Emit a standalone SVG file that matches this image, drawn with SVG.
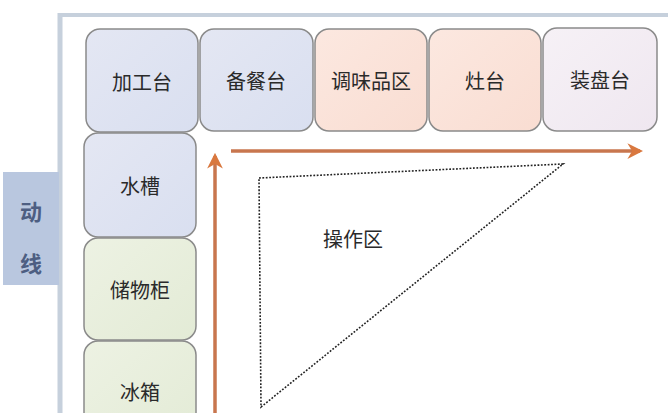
<svg xmlns="http://www.w3.org/2000/svg" width="672" height="413" viewBox="0 0 672 413">
<defs>
<style>
.n{stroke:#8a8a8a;stroke-width:1.5}
.t{font-family:"Noto Sans CJK SC","Noto Sans CJK JP",sans-serif;font-size:20px;fill:#2a2a2a;text-anchor:middle;dominant-baseline:central}
.d{fill:#4d5e82;font-weight:bold;font-size:22px}
.a{stroke:#c8764e;stroke-width:3.5;fill:none}
</style>
<linearGradient id="gb" x1="0" y1="0" x2="1" y2="1"><stop offset="0" stop-color="#e4e7f3"/><stop offset="1" stop-color="#d9dff0"/></linearGradient>
<linearGradient id="go" x1="0" y1="0" x2="1" y2="1"><stop offset="0" stop-color="#fce8e0"/><stop offset="1" stop-color="#f9ddd2"/></linearGradient>
<linearGradient id="gp" x1="0" y1="0" x2="1" y2="1"><stop offset="0" stop-color="#f6f1f6"/><stop offset="1" stop-color="#efe7f0"/></linearGradient>
<linearGradient id="gg" x1="0" y1="0" x2="1" y2="1"><stop offset="0" stop-color="#edf2e3"/><stop offset="1" stop-color="#e3ebd6"/></linearGradient>
<marker id="ah" viewBox="0 0 10 10" refX="8" refY="5" markerWidth="4.5" markerHeight="4.5" orient="auto" markerUnits="strokeWidth">
<path d="M0,0 L10,5 L0,10 L3,5 Z" fill="#d9783f"/>
</marker>
</defs>
<rect width="672" height="413" fill="#ffffff"/>
<g id="frame">
<line x1="60" y1="15" x2="668" y2="15" stroke="#c6d0dc" stroke-width="4"/>
<line x1="60" y1="13" x2="60" y2="413" stroke="#c6d0dc" stroke-width="5"/>
</g>
<g id="dongxian">
<rect x="3" y="172" width="56" height="113" fill="#b9c7df"/>
<text x="31" y="210" class="t d">动</text>
<text x="31" y="262" class="t d">线</text>
</g>
<g id="n-jiagong"><rect class="n" x="86" y="29" width="112" height="103" rx="14" fill="url(#gb)"/><text class="t" x="142" y="81">加工台</text></g>
<g id="n-beican"><rect class="n" x="200" y="29" width="113" height="102" rx="14" fill="url(#gb)"/><text class="t" x="256" y="80">备餐台</text></g>
<g id="n-tiaowei"><rect class="n" x="315" y="29" width="112" height="102" rx="14" fill="url(#go)"/><text class="t" x="371" y="80">调味品区</text></g>
<g id="n-zao"><rect class="n" x="429" y="29" width="112" height="102" rx="14" fill="url(#go)"/><text class="t" x="485" y="80">灶台</text></g>
<g id="n-zhuangpan"><rect class="n" x="543" y="28" width="114" height="103" rx="14" fill="url(#gp)"/><text class="t" x="600" y="79">装盘台</text></g>
<g id="n-shuicao"><rect class="n" x="84" y="133" width="112" height="104" rx="14" fill="url(#gb)"/><text class="t" x="140" y="185">水槽</text></g>
<g id="n-chuwu"><rect class="n" x="84" y="238" width="112" height="102" rx="14" fill="url(#gg)"/><text class="t" x="140" y="289">储物柜</text></g>
<g id="n-bingxiang"><rect class="n" x="84" y="341" width="112" height="100" rx="14" fill="url(#gg)"/><text class="t" x="140" y="391">冰箱</text></g>
<g id="connectors">
<line class="a" x1="231" y1="151" x2="640" y2="151" marker-end="url(#ah)"/>
<line class="a" x1="215" y1="413" x2="215" y2="156" marker-end="url(#ah)"/>
</g>
<g id="zone">
<polygon points="259,178 563,164 261,407" fill="none" stroke="#222" stroke-width="1.6" stroke-dasharray="1.8,1.6"/>
<text class="t" x="353" y="238">操作区</text>
</g>
</svg>
